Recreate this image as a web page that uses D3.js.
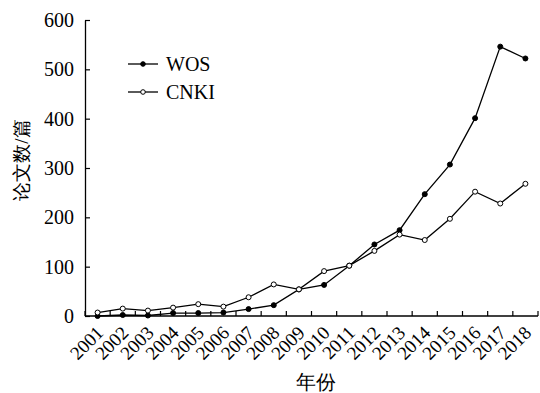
<!DOCTYPE html>
<html>
<head>
<meta charset="utf-8">
<script src="https://cdn.jsdelivr.net/npm/d3@7"></script>
</head>
<body style="margin:0">
<script>
// Years on the x axis
var years = ["2001", "2002", "2003", "2004", "2005", "2006", "2007", "2008", "2009",
             "2010", "2011", "2012", "2013", "2014", "2015", "2016", "2017", "2018"];

// Paper counts
var wosValues  = [0, 2, 1, 6, 6, 7, 14, 22, 54, 63, 102, 145, 174, 247, 307, 401, 546, 522];
var cnkiValues = [7, 15, 11, 17, 24, 19, 38, 64, 54, 91, 102, 132, 165, 154, 197, 252, 228, 268];

var yTicks = [0, 100, 200, 300, 400, 500, 600];

var seriesNames = ["WOS", "CNKI"];

var FONT = 'Liberation Serif';

var width = 540, height = 393;
var margin = { left: 85, right: 2, top: 20, bottom: 77 };

var svg = d3.select('body')
    .append('svg')
    .attr('width', width)
    .attr('height', height);

// x is a band scale so points sit in the middle of each year slot
var x = d3.scaleBand()
    .domain(years)
    .range([margin.left, width - margin.right])
    .paddingInner(0)
    .paddingOuter(0);

var y = d3.scaleLinear()
    .domain([0, 600])
    .range([height - margin.bottom, margin.top]);

// Y axis with ticks pointing inward
var yAxis = svg.append('g')
    .attr('transform', 'translate(' + margin.left + ',0)')
    .call(d3.axisLeft(y).tickValues(yTicks).tickSizeInner(-5).tickSizeOuter(0).tickPadding(11));

yAxis.attr('font-family', FONT).attr('font-size', 20);
yAxis.select('.domain').attr('stroke', '#000').attr('stroke-width', 1.3);
yAxis.selectAll('.tick line').attr('stroke', '#000').attr('stroke-width', 1.2);
yAxis.selectAll('.tick text').attr('fill', '#000');

// X axis: line plus ticks on the year boundaries
var xAxisY = y(0);
var xAxis = svg.append('g');

xAxis.append('line')
    .attr('x1', margin.left)
    .attr('x2', width - margin.right)
    .attr('y1', xAxisY)
    .attr('y2', xAxisY)
    .attr('stroke', '#000')
    .attr('stroke-width', 1.3);

var boundaries = years.map(function(d) { return x(d); }).concat([x.range()[1]]);
xAxis.selectAll('.xtick')
    .data(boundaries)
    .enter().append('line')
    .attr('class', 'xtick')
    .attr('x1', function(d) { return d; })
    .attr('x2', function(d) { return d; })
    .attr('y1', xAxisY)
    .attr('y2', xAxisY - 5)
    .attr('stroke', '#000')
    .attr('stroke-width', 1.2);

xAxis.selectAll('.xlabel')
    .data(years)
    .enter().append('text')
    .attr('class', 'xlabel')
    .attr('text-anchor', 'end')
    .attr('transform', function(d) {
        return 'translate(' + (x(d) + x.bandwidth() / 2 + 7) + ',' + (xAxisY + 18) + ') rotate(-45)';
    })
    .attr('font-family', FONT)
    .attr('font-size', 19)
    .text(function(d) { return d; });

// Axis titles
svg.append('text')
    .attr('x', (margin.left + width - margin.right) / 2 + 4)
    .attr('y', 389)
    .attr('text-anchor', 'middle')
    .attr('font-family', FONT)
    .attr('font-size', 20)
    .text('年份');

svg.append('text')
    .attr('transform', 'translate(28,160) rotate(-90)')
    .attr('text-anchor', 'middle')
    .attr('font-family', FONT)
    .attr('font-size', 19)
    .text('论文数/篇');

// Lines and markers
var line = d3.line()
    .x(function(d, i) { return x(years[i]) + x.bandwidth() / 2; })
    .y(function(d) { return y(d); });

var series = [
    { name: seriesNames[0], values: wosValues, fill: '#000' },
    { name: seriesNames[1], values: cnkiValues, fill: '#fff' }
];

series.forEach(function(s) {
    svg.append('path')
        .datum(s.values)
        .attr('d', line)
        .attr('fill', 'none')
        .attr('stroke', '#000')
        .attr('stroke-width', 1.3);
});

series.forEach(function(s) {
    svg.selectAll('.pt-' + s.name)
        .data(s.values)
        .enter().append('circle')
        .attr('class', 'pt-' + s.name)
        .attr('cx', function(d, i) { return x(years[i]) + x.bandwidth() / 2; })
        .attr('cy', function(d) { return y(d); })
        .attr('r', 2.5)
        .attr('fill', s.fill)
        .attr('stroke', '#000')
        .attr('stroke-width', 1);
});

// Legend
var legend = svg.selectAll('.legend')
    .data(series)
    .enter().append('g')
    .attr('class', 'legend')
    .attr('transform', function(d, i) { return 'translate(128,' + (64 + i * 28) + ')'; });

legend.append('line')
    .attr('x1', 0).attr('x2', 30)
    .attr('stroke', '#000')
    .attr('stroke-width', 1.3);

legend.append('circle')
    .attr('cx', 15)
    .attr('r', 2.3)
    .attr('fill', function(d) { return d.fill; })
    .attr('stroke', '#000')
    .attr('stroke-width', 1);

legend.append('text')
    .attr('x', 38)
    .attr('dy', '0.35em')
    .attr('font-family', FONT)
    .attr('font-size', 20)
    .text(function(d) { return d.name; });
</script>
</body>
</html>
